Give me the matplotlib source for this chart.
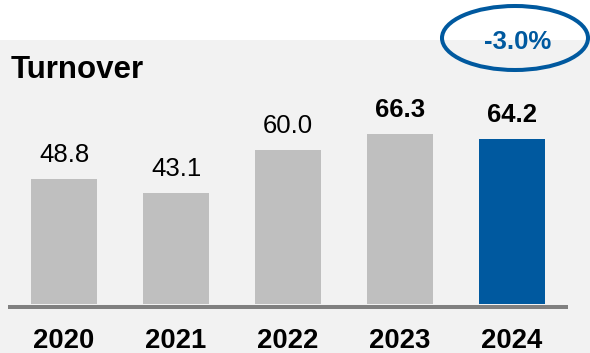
import matplotlib
matplotlib.use("Agg")
import matplotlib.pyplot as plt
from matplotlib.patches import Rectangle, Ellipse

plt.rcParams["font.family"] = ["Liberation Sans", "DejaVu Sans"]

years = ["2020", "2021", "2022", "2023", "2024"]
turnover = [48.8, 43.1, 60.0, 66.3, 64.2]
bold_values = [False, False, False, True, True]
change_label = "-3.0%"

W, H = 590, 353
GREY_BAR = "#bfbfbf"
BLUE = "#00599f"

fig = plt.figure(figsize=(W / 100, H / 100), dpi=100)
fig.patch.set_facecolor("white")

# light grey panel behind the chart, starting 40 px from the top
fig.patches.append(Rectangle((0, 0), 1, (H - 40) / H, transform=fig.transFigure,
                             facecolor="#f2f2f2", edgecolor="none", zorder=-5))

# bar axes: 0 sits at y=304 px, 2.57 px per unit, x from 8 to 568 px
px_per_unit = 2.57
y_zero = 304
y_bottom = 309
y_top = 40
ax = fig.add_axes([8 / W, (H - y_bottom) / H, 560 / W, (y_bottom - y_top) / H])
ax.set_facecolor("none")
ax.set_xlim(-0.5, 4.5)
ax.set_ylim(-(y_bottom - y_zero) / px_per_unit, (y_zero - y_top) / px_per_unit)
ax.axis("off")

x = list(range(len(years)))
colors = [GREY_BAR] * (len(years) - 1) + [BLUE]
ax.bar(x, turnover, width=0.59, color=colors, zorder=2)
ax.axhline(-2.5 / px_per_unit, color="#808080", linewidth=3.6, zorder=3)

for i, (v, b) in enumerate(zip(turnover, bold_values)):
    ax.annotate(f"{v:.1f}", xy=(i, v), xytext=(0, 12.2), textcoords="offset points",
                ha="center", va="baseline", fontsize=18.5,
                fontweight="bold" if b else "normal", color="black")
    ax.annotate(years[i], xy=(i, 0), xytext=(0, -31.5), textcoords="offset points",
                ha="center", va="baseline", fontsize=19.8, fontweight="bold",
                color="black", annotation_clip=False)

fig.text(11 / W, (H - 77.7) / H, "Turnover", fontsize=22.5, fontweight="bold",
         ha="left", va="baseline", color="black")

# overlay in pixel coordinates for the change bubble
ov = fig.add_axes([0, 0, 1, 1])
ov.set_xlim(0, W)
ov.set_ylim(H, 0)
ov.axis("off")
ov.patch.set_alpha(0)
ov.add_patch(Ellipse((515, 38), 146, 64, facecolor="none", edgecolor=BLUE,
                     linewidth=2.9, zorder=5))
ov.text(518, 42, change_label, ha="center", va="center", fontsize=18.5,
        fontweight="bold", color=BLUE, zorder=6)

fig.savefig("out.png", dpi=100)
